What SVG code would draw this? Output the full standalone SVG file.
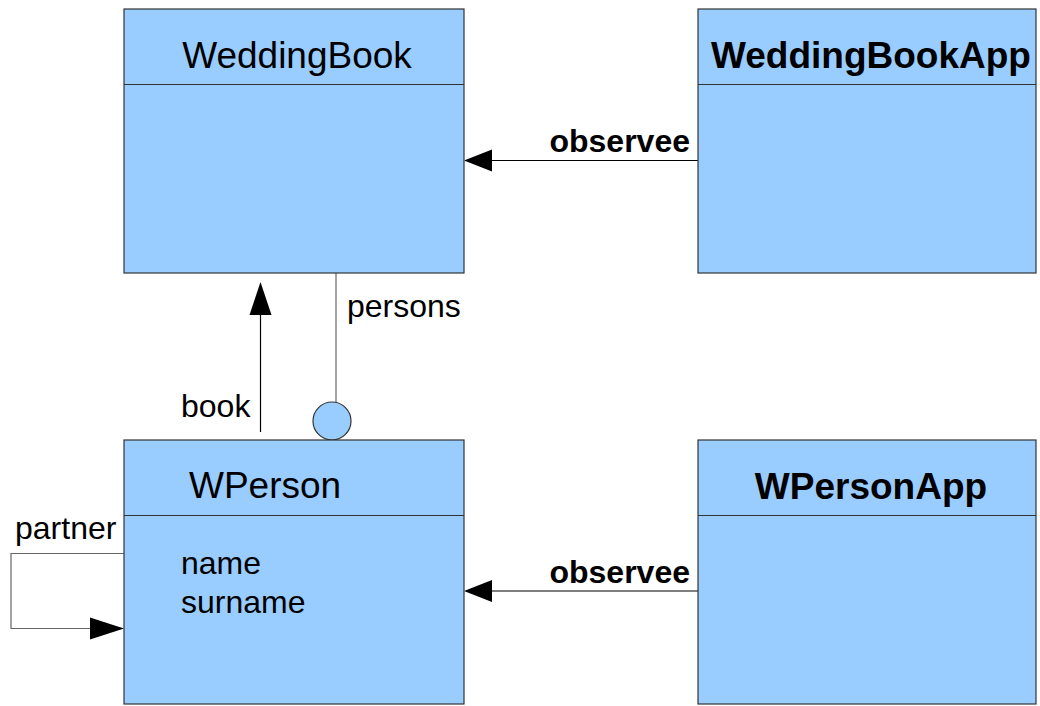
<svg xmlns="http://www.w3.org/2000/svg" width="1040" height="706" viewBox="0 0 1040 706">
<style>
.box{fill:#99ccff;stroke:#333;stroke-width:1.2}
.div{stroke:#333;stroke-width:1.2}
.t{font-family:"Liberation Sans",Arial,sans-serif;fill:#000}
.title{font-size:37px}
.bold{font-weight:bold}
.lbl{font-size:32px}
.ln{stroke:#000;stroke-width:1.2;fill:none}
.gl{stroke:#666;stroke-width:1.2;fill:none}
.ah{fill:#000}
</style>
<rect width="1040" height="706" fill="#fff"/>
<g id="connectors">
  <!-- observee top -->
  <line class="ln" x1="698" y1="160.5" x2="490" y2="160.5"/>
  <polygon class="ah" points="464,160.5 492,149.5 492,171.5"/>
  <text class="t lbl bold" x="690" y="152" text-anchor="end" font-size="31">observee</text>
  <!-- observee bottom -->
  <line class="ln" x1="698" y1="591" x2="490" y2="591"/>
  <polygon class="ah" points="464,591 492,580 492,602"/>
  <text class="t lbl bold" x="690" y="583" text-anchor="end" font-size="31">observee</text>
  <!-- book -->
  <line class="ln" x1="260.5" y1="432" x2="260.5" y2="312"/>
  <polygon class="ah" points="260.5,282 249.5,315 271.5,315"/>
  <text class="t lbl" x="181" y="417">book</text>
  <!-- persons -->
  <line class="gl" x1="336" y1="273" x2="336" y2="403"/>
  <circle cx="332" cy="421" r="19" fill="#99ccff" stroke="#333" stroke-width="1.2"/>
  <text class="t lbl" x="347" y="317">persons</text>
  <!-- partner -->
  <polyline class="gl" points="124,553.5 11,553.5 11,628.5 92,628.5"/>
  <polygon class="ah" points="124,628.5 90,617.5 90,639.5"/>
  <text class="t lbl" x="15" y="539">partner</text>
</g>
<g id="WeddingBook">
  <rect class="box" x="124" y="9" width="340" height="264"/>
  <line class="div" x1="124" y1="84.5" x2="464" y2="84.5"/>
  <text class="t title" x="297" y="68" text-anchor="middle">WeddingBook</text>
</g>
<g id="WeddingBookApp">
  <rect class="box" x="698" y="9" width="338" height="264"/>
  <line class="div" x1="698" y1="84.5" x2="1036" y2="84.5"/>
  <text class="t title bold" x="871" y="68" text-anchor="middle" font-size="35.5">WeddingBookApp</text>
</g>
<g id="WPerson">
  <rect class="box" x="124" y="440" width="340" height="264"/>
  <line class="div" x1="124" y1="515.5" x2="464" y2="515.5"/>
  <text class="t title" x="189" y="498">WPerson</text>
  <text class="t lbl" x="181" y="574">name</text>
  <text class="t lbl" x="181" y="613">surname</text>
</g>
<g id="WPersonApp">
  <rect class="box" x="698" y="440" width="338" height="264"/>
  <line class="div" x1="698" y1="515.5" x2="1036" y2="515.5"/>
  <text class="t title bold" x="871" y="499" text-anchor="middle">WPersonApp</text>
</g>
</svg>
